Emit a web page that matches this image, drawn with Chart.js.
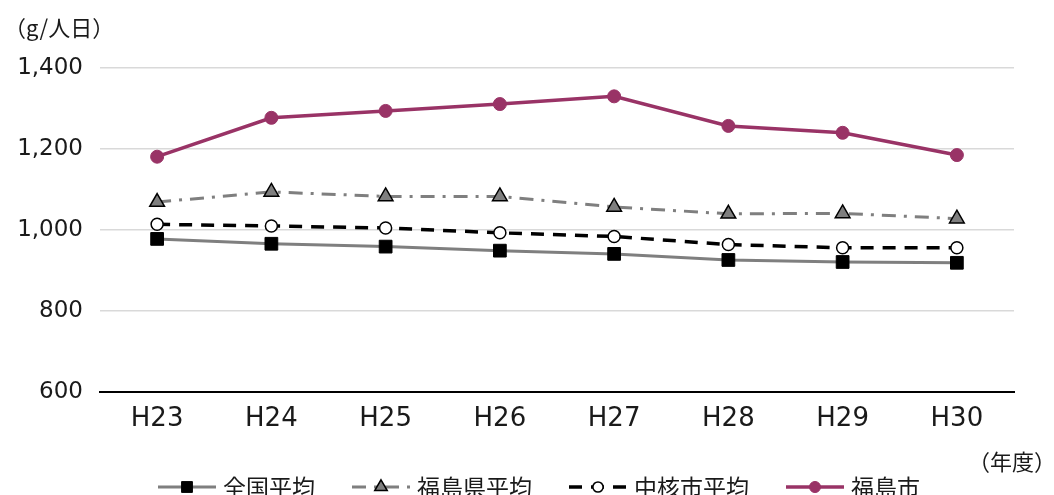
<!DOCTYPE html>
<html lang="ja">
<head>
<meta charset="utf-8">
<title>一人一日当たりごみ排出量</title>
<script src="https://cdn.jsdelivr.net/npm/chart.js@4"></script>
<style>
  html, body { margin: 0; padding: 0; background: #fff; }
  #wrap { width: 1054px; height: 495px; position: relative; }
</style>
</head>
<body>
<div id="wrap"><canvas id="chart"></canvas></div>
<script>
// 年度
const years = ['H23', 'H24', 'H25', 'H26', 'H27', 'H28', 'H29', 'H30'];

// g/人日
const national   = [978, 966, 959, 949, 941, 926, 921, 919];        // 全国平均
const prefecture = [1069, 1094, 1083, 1083, 1057, 1040, 1041, 1028]; // 福島県平均
const coreCities = [1014, 1010, 1005, 993, 984, 964, 956, 956];      // 中核市平均
const fukushima  = [1181, 1277, 1294, 1311, 1330, 1257, 1240, 1185]; // 福島市

const yTicks = [600, 800, 1000, 1200, 1400];

const NUM_FONT = "'DejaVu Sans', sans-serif";
const JP_FONT = "'Noto Sans CJK JP', sans-serif";
const TEXT = '#1a1a1a';
const PLUM = '#993366';
const GRAY = '#7f7f7f';

const datasets = [
  {
    label: '全国平均',
    data: national,
    borderColor: GRAY,
    borderWidth: 3,
    pointStyle: 'rect',
    pointRadius: 9,
    pointBackgroundColor: '#000',
    pointBorderColor: '#000',
    pointBorderWidth: 1
  },
  {
    label: '福島県平均',
    data: prefecture,
    borderColor: GRAY,
    borderWidth: 3,
    borderDash: [14, 8, 3, 8],
    pointStyle: 'triangle',
    pointRadius: 8.5,
    pointBackgroundColor: GRAY,
    pointBorderColor: '#000',
    pointBorderWidth: 1.5
  },
  {
    label: '中核市平均',
    data: coreCities,
    borderColor: '#000',
    borderWidth: 3.5,
    borderDash: [13, 9],
    pointStyle: 'circle',
    pointRadius: 6,
    pointBackgroundColor: '#fff',
    pointBorderColor: '#000',
    pointBorderWidth: 1.5
  },
  {
    label: '福島市',
    data: fukushima,
    borderColor: PLUM,
    borderWidth: 3.5,
    pointStyle: 'circle',
    pointRadius: 6.5,
    pointBackgroundColor: PLUM,
    pointBorderColor: PLUM,
    pointBorderWidth: 1
  }
];
datasets.forEach(d => { d.fill = false; d.tension = 0; d.pointHoverRadius = d.pointRadius; });

// unit labels and the line+marker legend along the bottom
const extras = {
  id: 'extras',
  afterDraw(chart) {
    const ctx = chart.ctx;
    ctx.save();
    ctx.fillStyle = TEXT;
    ctx.textBaseline = 'middle';
    ctx.font = '22px ' + JP_FONT;
    ctx.textAlign = 'left';
    ctx.fillText('（g/人日）', 4, 28);
    ctx.textAlign = 'right';
    ctx.fillText('（年度）', 1056, 462);

    const y = 487;
    const lineLen = 58;
    let x = 158;
    ctx.font = '23px ' + JP_FONT;
    ctx.textAlign = 'left';
    chart.data.datasets.forEach(ds => {
      ctx.save();
      ctx.strokeStyle = ds.borderColor;
      ctx.lineWidth = ds.borderWidth;
      ctx.setLineDash(ds.borderDash || []);
      ctx.beginPath();
      ctx.moveTo(x, y);
      ctx.lineTo(x + lineLen, y);
      ctx.stroke();
      ctx.setLineDash([]);
      ctx.fillStyle = ds.pointBackgroundColor;
      ctx.strokeStyle = ds.pointBorderColor;
      ctx.lineWidth = ds.pointBorderWidth;
      Chart.helpers.drawPoint(ctx, {
        pointStyle: ds.pointStyle,
        radius: ds.pointRadius * 0.85,
        borderWidth: ds.pointBorderWidth,
        rotation: 0
      }, x + lineLen / 2, y);
      ctx.restore();
      const tx = x + lineLen + 7;
      ctx.fillText(ds.label, tx, y);
      x = tx + ctx.measureText(ds.label).width + 37;
    });
    ctx.restore();
  }
};

new Chart(document.getElementById('chart'), {
  type: 'line',
  data: { labels: years, datasets },
  options: {
    responsive: true,
    maintainAspectRatio: false,
    animation: false,
    layout: { padding: { top: 68, right: 40, left: 0, bottom: 0 } },
    plugins: {
      legend: { display: false },
      tooltip: { enabled: false }
    },
    scales: {
      x: {
        offset: true,
        grid: { display: false, drawTicks: false },
        border: { display: true, color: '#000', width: 2 },
        ticks: {
          color: TEXT,
          font: { family: NUM_FONT, size: 26 },
          padding: 12,
          maxRotation: 0
        },
        afterFit(scale) { scale.height = 103; }
      },
      y: {
        min: yTicks[0],
        max: yTicks[yTicks.length - 1],
        afterBuildTicks(scale) { scale.ticks = yTicks.map(v => ({ value: v })); },
        grid: {
          drawTicks: false,
          color: ctx => (ctx.tick && ctx.tick.value === yTicks[0]) ? 'rgba(0,0,0,0)' : '#d9d9d9',
          lineWidth: 1.5
        },
        border: { display: false },
        ticks: {
          color: TEXT,
          font: { family: NUM_FONT, size: 23 },
          padding: 17,
          callback: v => v.toLocaleString('en-US')
        },
        afterFit(scale) { scale.width = 100; }
      }
    }
  },
  plugins: [extras]
});
</script>
</body>
</html>
